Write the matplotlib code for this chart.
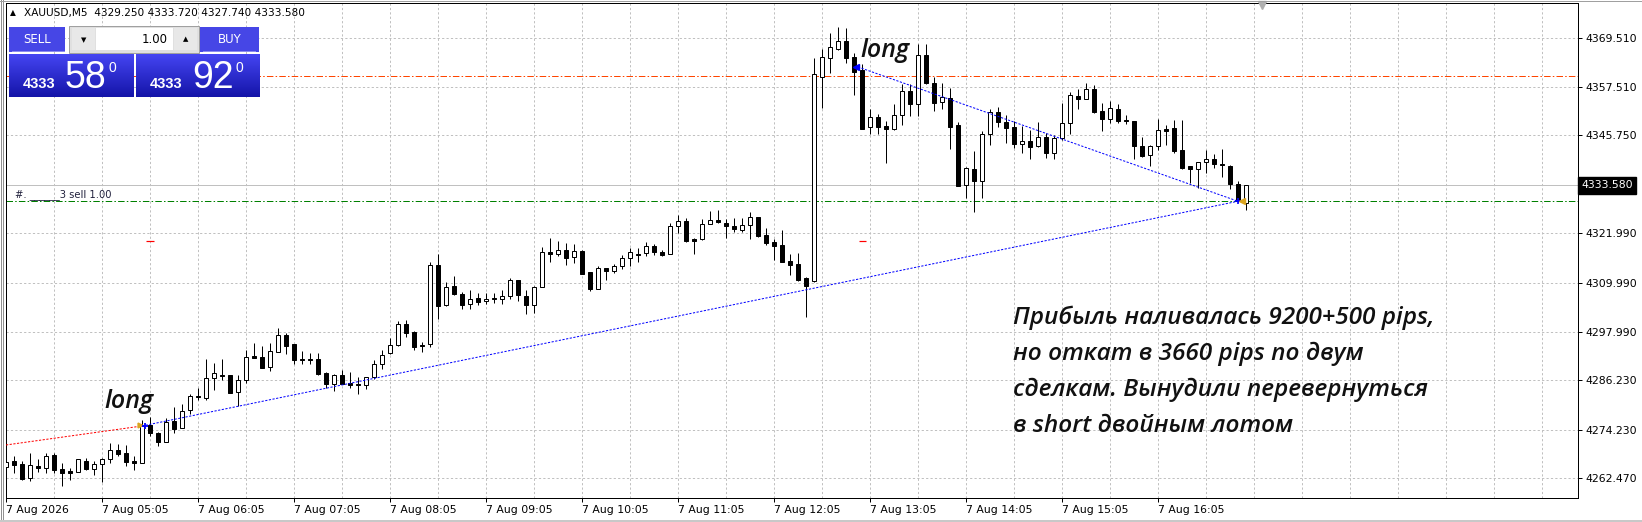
import numpy as np
import matplotlib.pyplot as plt
from matplotlib.patches import Rectangle
from matplotlib.lines import Line2D

W, H, DPI = 1642, 522, 100

# XAUUSD M5, bar 0 = 04:05, one bar every 5 minutes
opens = [4265.08, 4266.54, 4265.89, 4262.41, 4265.40, 4264.84, 4268.08, 4264.59, 4264.27, 4264.02,
         4266.70, 4264.75, 4265.81, 4267.02, 4269.21, 4268.48, 4266.62, 4266.21, 4275.37, 4273.34,
         4271.31, 4276.34, 4274.55, 4279.01, 4282.41, 4281.85, 4286.71, 4287.43, 4287.52, 4283.30,
         4286.22, 4292.05, 4291.81, 4289.38, 4293.19, 4297.24, 4295.05, 4291.40, 4291.40, 4291.40,
         4287.92, 4285.27, 4287.53, 4285.51, 4285.35, 4285.02, 4286.97, 4290.13, 4292.80, 4294.74,
         4299.85, 4298.07, 4294.83, 4294.99, 4314.18, 4304.63, 4309.08, 4307.14, 4304.71, 4306.16,
         4305.44, 4306.25, 4305.92, 4306.65, 4310.62, 4306.65, 4304.46, 4308.84, 4317.42, 4316.86,
         4317.83, 4316.13, 4317.67, 4312.56, 4308.35, 4313.45, 4312.73, 4313.94, 4315.88, 4317.02,
         4317.10, 4318.90, 4317.36, 4317.03, 4323.68, 4324.97, 4320.60, 4320.52, 4324.16, 4325.13,
         4324.41, 4323.76, 4322.70, 4323.92, 4325.86, 4321.57, 4319.79, 4319.14, 4315.17, 4314.52,
         4311.04, 4310.47, 4360.05, 4364.50, 4366.85, 4368.71, 4364.82, 4361.66, 4347.73, 4350.16,
         4348.06, 4347.41, 4350.65, 4356.56, 4353.32, 4365.23, 4358.51, 4353.81, 4354.86, 4348.30,
         4333.72, 4337.60, 4334.61, 4346.03, 4351.45, 4349.02, 4347.81, 4343.60, 4344.41, 4343.11,
         4345.38, 4341.41, 4345.06, 4348.70, 4355.34, 4354.53, 4357.04, 4351.62, 4349.67, 4352.10,
         4349.51, 4349.19, 4343.19, 4340.92, 4343.11, 4347.32, 4347.49, 4342.22, 4338.25, 4337.52,
         4339.22, 4339.95, 4338.82, 4338.33, 4333.88, 4329.25]
highs = [4267.91, 4267.91, 4266.70, 4268.48, 4267.02, 4268.48, 4268.48, 4266.05, 4264.84, 4267.02,
         4267.27, 4266.70, 4267.27, 4270.91, 4270.67, 4270.50, 4267.83, 4276.58, 4277.39, 4273.75,
         4276.99, 4279.66, 4280.39, 4282.90, 4284.27, 4291.40, 4290.51, 4291.40, 4287.52, 4287.52,
         4293.59, 4295.37, 4294.56, 4295.37, 4298.86, 4297.80, 4295.05, 4293.35, 4292.78, 4292.78,
         4288.33, 4287.78, 4288.75, 4288.18, 4286.97, 4287.13, 4291.18, 4293.61, 4296.45, 4300.74,
         4300.90, 4298.23, 4295.64, 4315.07, 4316.94, 4310.05, 4311.59, 4307.70, 4308.19, 4307.38,
         4307.38, 4307.38, 4308.19, 4311.11, 4310.62, 4308.27, 4309.16, 4318.72, 4320.75, 4320.10,
         4319.53, 4319.29, 4317.91, 4312.56, 4314.02, 4313.45, 4314.51, 4316.69, 4318.32, 4318.32,
         4319.85, 4319.30, 4317.92, 4324.41, 4326.43, 4325.78, 4320.76, 4325.46, 4327.40, 4327.65,
         4325.46, 4325.62, 4325.62, 4327.08, 4326.03, 4323.35, 4320.60, 4322.79, 4316.95, 4317.12,
         4311.28, 4364.50, 4366.69, 4370.58, 4372.03, 4371.79, 4365.88, 4363.04, 4352.11, 4350.89,
         4349.27, 4353.32, 4358.26, 4358.26, 4367.90, 4367.90, 4360.05, 4358.43, 4357.37, 4348.95,
         4338.17, 4342.06, 4346.84, 4352.10, 4352.59, 4350.72, 4349.27, 4348.05, 4347.08, 4349.10,
         4346.27, 4345.87, 4353.72, 4356.23, 4357.12, 4358.42, 4358.02, 4353.56, 4354.21, 4353.40,
         4350.72, 4349.19, 4345.46, 4343.44, 4349.75, 4348.29, 4349.51, 4349.51, 4338.33, 4339.38,
         4342.22, 4341.25, 4342.46, 4338.58, 4334.77, 4333.72]
lows = [4264.02, 4263.78, 4262.00, 4261.84, 4263.86, 4263.78, 4263.62, 4260.62, 4262.00, 4264.02,
        4264.43, 4263.22, 4261.60, 4266.05, 4267.91, 4265.48, 4264.43, 4266.05, 4272.69, 4270.26,
        4271.31, 4273.50, 4274.55, 4278.04, 4281.44, 4281.44, 4283.87, 4286.30, 4283.06, 4279.98,
        4285.65, 4291.56, 4289.30, 4288.57, 4293.19, 4292.62, 4290.19, 4290.19, 4290.19, 4287.52,
        4284.27, 4283.73, 4285.35, 4284.30, 4282.84, 4284.05, 4286.48, 4288.91, 4292.56, 4294.50,
        4296.85, 4293.61, 4293.21, 4294.26, 4301.06, 4304.38, 4306.89, 4303.49, 4303.49, 4304.55,
        4304.79, 4304.95, 4304.71, 4306.08, 4305.44, 4302.28, 4302.68, 4308.84, 4315.07, 4316.37,
        4314.35, 4314.83, 4312.08, 4308.03, 4308.35, 4310.62, 4312.24, 4313.21, 4314.10, 4315.07,
        4316.53, 4316.71, 4316.39, 4316.87, 4321.97, 4319.95, 4317.03, 4320.27, 4324.16, 4324.41,
        4320.92, 4322.22, 4322.22, 4320.68, 4321.00, 4319.14, 4315.50, 4315.09, 4311.85, 4310.47,
        4301.61, 4310.23, 4352.35, 4361.02, 4366.61, 4363.28, 4355.59, 4347.41, 4346.03, 4346.19,
        4339.15, 4347.00, 4348.30, 4350.57, 4350.57, 4358.26, 4351.78, 4352.19, 4342.39, 4333.56,
        4330.64, 4327.24, 4330.48, 4343.52, 4347.89, 4343.84, 4342.62, 4341.41, 4340.11, 4342.87,
        4340.19, 4340.03, 4344.65, 4346.11, 4352.18, 4354.53, 4351.13, 4346.92, 4348.86, 4348.70,
        4348.46, 4339.95, 4340.60, 4338.33, 4342.22, 4343.44, 4341.57, 4337.68, 4334.28, 4332.90,
        4336.55, 4337.93, 4335.74, 4332.66, 4329.66, 4327.74]
closes = [4266.45, 4265.73, 4262.24, 4265.56, 4265.00, 4267.83, 4264.43, 4263.78, 4263.78, 4267.02,
          4264.75, 4265.89, 4267.02, 4269.21, 4268.32, 4266.45, 4266.21, 4275.12, 4273.50, 4271.31,
          4276.17, 4274.47, 4278.77, 4282.41, 4282.25, 4286.71, 4287.92, 4287.27, 4283.22, 4286.30,
          4291.81, 4291.73, 4289.30, 4293.35, 4297.24, 4294.64, 4291.16, 4291.16, 4291.24, 4287.84,
          4285.33, 4287.53, 4285.43, 4285.19, 4285.02, 4286.97, 4290.13, 4292.40, 4294.83, 4299.93,
          4297.82, 4294.42, 4294.50, 4314.18, 4304.38, 4309.00, 4307.14, 4304.46, 4305.92, 4305.36,
          4305.92, 4305.92, 4306.65, 4310.62, 4306.89, 4304.46, 4308.84, 4317.34, 4316.94, 4317.83,
          4316.05, 4317.59, 4312.16, 4308.35, 4313.54, 4312.73, 4313.94, 4315.88, 4317.34, 4316.78,
          4318.80, 4317.52, 4316.79, 4323.68, 4324.89, 4320.19, 4320.19, 4324.16, 4325.13, 4324.65,
          4323.68, 4322.95, 4323.92, 4325.86, 4321.41, 4319.71, 4318.98, 4315.09, 4314.36, 4310.63,
          4309.26, 4360.61, 4364.74, 4367.17, 4368.63, 4364.66, 4361.26, 4347.41, 4350.16, 4347.90,
          4347.25, 4350.65, 4356.48, 4353.48, 4365.23, 4358.59, 4353.73, 4355.02, 4347.90, 4333.56,
          4337.77, 4334.61, 4346.11, 4351.37, 4348.94, 4347.65, 4343.60, 4344.41, 4343.03, 4345.30,
          4341.41, 4345.14, 4348.70, 4355.59, 4354.53, 4356.96, 4351.37, 4349.67, 4352.35, 4349.35,
          4349.27, 4343.11, 4340.84, 4343.11, 4347.00, 4346.92, 4342.06, 4337.93, 4337.52, 4339.22,
          4340.03, 4338.74, 4338.66, 4333.88, 4329.75, 4333.58]

price_ticks = [4369.51, 4357.51, 4345.75, 4321.99, 4309.99, 4297.99, 4286.23, 4274.23, 4262.47]
time_ticks = list(range(0, 145, 12))
time_labels = ['7 Aug 2026'] + ['7 Aug %02d:05' % h for h in range(5, 17)]

bid = 4333.58
sell_level = 4329.75      # green order line
stop_level = 4360.13      # orange line
# closed trades (bar index, price)
red_trade = ([0, 17], [4270.49, 4275.11])
blue_trades = [([17, 154], [4275.11, 4329.75]), ([106.5, 154], [4362.4, 4329.75])]
red_marks = ([18, 107.1], [4320.0, 4320.0])
shift_mark = 157

ymin, ymax = 4257.60, 4377.95
xmax = 196.5

fig = plt.figure(figsize=(W / DPI, H / DPI), dpi=DPI)
fig.patch.set_facecolor('white')
ax = fig.add_axes([6 / W, 1 - 498 / H, (1578 - 6) / W, (498 - 3) / H])
ax.set_xlim(0, xmax)
ax.set_ylim(ymin, ymax)
px = 0.72  # one pixel in points

# grid
ax.set_yticks(price_ticks)
ax.set_yticklabels(['%.3f' % v for v in price_ticks])
ax.set_xticks(time_ticks)
ax.set_xticklabels(time_labels, ha='left')
ax.set_xticks(np.arange(6, 193, 6), minor=True)
ax.grid(True, which='both', color='#c0c0c0', linestyle=(0, (2.2, 2.2)), linewidth=px, zorder=0)
ax.set_axisbelow(True)
ax.yaxis.tick_right()
ax.tick_params(axis='y', which='major', length=3, width=px, labelsize=7.8, pad=2, colors='black')
ax.tick_params(axis='x', which='major', length=3, width=px, labelsize=7.8, pad=2)
ax.tick_params(axis='x', which='minor', length=0)
for s in ax.spines.values():
    s.set_linewidth(px)
    s.set_color('black')

# order lines
ax.axhline(bid, color='#c0c0c0', lw=px, zorder=1)
ax.axhline(stop_level, color='#ff4500', lw=px, linestyle=(0, (6.5, 2.2, 1.5, 2.2)), zorder=1)
ax.axhline(sell_level, color='#008000', lw=px, linestyle=(0, (6.5, 2.2, 1.5, 2.2)), zorder=1)
ax.text(1.1, sell_level + 1.1, '#. ______3 sell 1.00', fontsize=7.2, color='#20203c',
        va='baseline', ha='left')

# candles
x = np.arange(len(opens))
o, h, l, c = map(np.array, (opens, highs, lows, closes))
ax.vlines(x, l, h, color='black', lw=px, zorder=2)
up = c >= o
ax.bar(x[up], (c - o)[up], bottom=o[up], width=0.5, color='white', edgecolor='black',
       linewidth=px, zorder=3)
ax.bar(x[~up], (o - c)[~up], bottom=c[~up], width=0.5, color='black', edgecolor='black',
       linewidth=px, zorder=3)

# trade history
ax.plot(*red_trade, color='#ff0000', lw=px, linestyle=(0, (2.2, 1.5)), zorder=4)
for tx, ty in blue_trades:
    ax.plot(tx, ty, color='#0000ff', lw=px, linestyle=(0, (2.2, 1.5)), zorder=4)
ax.hlines(red_marks[1], np.array(red_marks[0]) - 0.45, np.array(red_marks[0]) + 0.45,
          color='#ff0000', lw=1.2 * px, zorder=4)
ax.plot([16.7], [4275.3], marker='>', ms=3.5, color='#daa520', zorder=5)
ax.plot([17.4], [4275.11], marker='+', ms=5, mew=1.3, color='#0000ff', zorder=5)
ax.plot([106.3], [4362.4], marker='<', ms=4, color='#0000ff', zorder=5)
ax.plot([154.0], [4329.75], marker='+', ms=4, mew=1.2, color='#0000ff', zorder=5)
ax.plot([154.5], [4329.75], marker='<', ms=4, color='#daa520', zorder=5)
ax.plot([shift_mark], [ymax - 0.5], marker='v', ms=5.5, color='#b0b0b0', clip_on=False, zorder=5)

# annotations
tfont = dict(family=['Open Sans', 'DejaVu Sans'], style='italic', weight='semibold', color='#111111')
ax.text(12.25, 4279.48, 'long', fontsize=18, va='baseline', **tfont)
ax.text(106.75, 4364.75, 'long', fontsize=18, va='baseline', **tfont)
lines = ['Прибыль наливалась 9200+500 pips,', 'но откат в 3660 pips по двум',
         'сделкам. Вынудили перевернуться', 'в short двойным лотом']
for k, s in enumerate(lines):
    ax.text(125.9, 4299.91 - k * 8.75, s, fontsize=17.6, va='baseline', **tfont)

# bid label on price scale
ax.text(1.002, bid, '%.3f' % bid, transform=ax.get_yaxis_transform(), fontsize=7.8,
        color='white', va='center', ha='left',
        bbox=dict(boxstyle='square,pad=0.3', fc='black', ec='black'))

# title
fig.text(10 / W, 1 - 13 / H, '▲', fontsize=5.5, va='center', ha='left')
fig.text(24 / W, 1 - 13 / H, 'XAUUSD,M5  4329.250 4333.720 4327.740 4333.580', fontsize=7.6,
         va='center', ha='left')


# one-click trading panel (pixel coords, top-left origin)
def frect(x0, y0, x1, y1, **kw):
    fig.add_artist(Rectangle((x0 / W, 1 - y1 / H), (x1 - x0) / W, (y1 - y0) / H,
                             transform=fig.transFigure, **kw))


def grad_box(x0, y0, x1, y1, top, bot):
    a = fig.add_axes([x0 / W, 1 - y1 / H, (x1 - x0) / W, (y1 - y0) / H])
    t = np.linspace(0, 1, 64)[:, None, None]
    img = np.array(top)[None, None, :] * (1 - t) + np.array(bot)[None, None, :] * t
    a.imshow(img, aspect='auto', extent=(0, 1, 0, 1))
    a.set_axis_off()
    return a


frect(9, 27, 65, 52, fc='#4646e6', ec='none')
frect(135, 27, 200, 52, fc='white', ec='none')
frect(200, 27, 259, 52, fc='#4646e6', ec='none')
frect(12, 51, 65, 52, fc='#8c8cf0', ec='none')
frect(203, 51, 256, 52, fc='#8c8cf0', ec='none')
frect(69, 26, 199, 53, fc='#e0e0e0', ec='#a0a0a0', lw=px)
frect(72, 28, 95, 50, fc='#e8e8e8', ec='none')
frect(96, 28, 173, 50, fc='white', ec='none')
frect(174, 28, 197, 50, fc='#e8e8e8', ec='none')
fig.text(37 / W, 1 - 39.5 / H, 'SELL', fontsize=8.5, color='white', ha='center', va='center')
fig.text(230 / W, 1 - 39.5 / H, 'BUY', fontsize=8.5, color='white', ha='center', va='center')
fig.text(168 / W, 1 - 39.5 / H, '1.00', fontsize=8.5, color='black', ha='right', va='center')
fig.text(83.5 / W, 1 - 40 / H, '▼', fontsize=5, color='black', ha='center', va='center')
fig.text(185.5 / W, 1 - 39 / H, '▲', fontsize=5, color='black', ha='center', va='center')

bf = dict(family=['Liberation Sans Narrow', 'Liberation Sans', 'DejaVu Sans'], color='white')
for (x0, x1), big, p in [((9, 133), '58', 23), ((136, 259), '92', 150)]:
    a = grad_box(x0, 54, x1, 97, (0.27, 0.27, 0.95), (0.08, 0.08, 0.66))
    fig.text(p / W, 1 - 88 / H, '4333', fontsize=10.5, weight='bold', va='baseline',
             ha='left', **bf)
    fig.text((p + 42) / W, 1 - 88 / H, big, fontsize=27, va='baseline', ha='left', **bf)
    fig.text((p + 85) / W, 1 - 72 / H, '0', fontsize=10, va='baseline', ha='left', **bf)

# window frame
for xx in (1, 3):
    fig.add_artist(Line2D([xx / W, xx / W], [0, 1], color='#909090', lw=px))
fig.add_artist(Line2D([0, 1], [1 - 1 / H, 1 - 1 / H], color='#a0a0a0', lw=px))
fig.add_artist(Line2D([0, 1], [1.5 / H, 1.5 / H], color='#c8c8c8', lw=2 * px))

fig.savefig('out.png', dpi=DPI)
